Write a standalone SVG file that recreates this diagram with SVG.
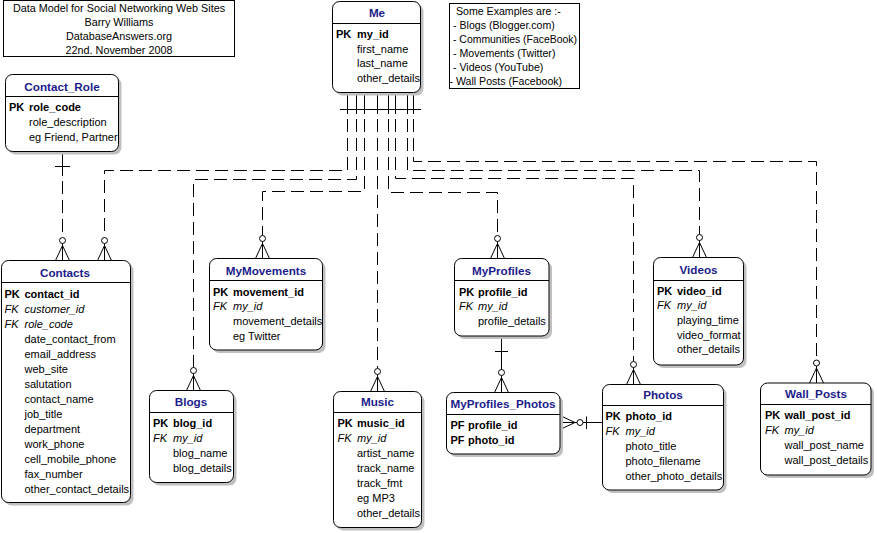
<svg xmlns="http://www.w3.org/2000/svg" width="877" height="533" viewBox="0 0 877 533">
<style>
text{font-family:"Liberation Sans",Arial,sans-serif;font-size:11px;fill:#000}
.hdr{font-size:11.7px;font-weight:bold;fill:#1c1c8c;text-anchor:middle}
.pk{font-weight:bold}
.fk{font-style:italic}
.mid{text-anchor:middle}
.ttl{font-size:10.8px}
.ex{font-size:10.6px}
.box{fill:#fff;stroke:#000;stroke-width:1}
.shd{fill:#c0c0c0}
.div{stroke:#000;stroke-width:1}
.sol{fill:none;stroke:#000;stroke-width:1}
.dash{fill:none;stroke:#000;stroke-width:1;stroke-dasharray:13 6}
.note{fill:#fff;stroke:#000;stroke-width:1}
</style>
<defs>
<g id="cf">
<circle cx="0" cy="-20" r="3" fill="#fff" stroke="#000" stroke-width="1"/>
<path d="M0,-17V0M0,-15L-7,0M0,-15L7,0" fill="none" stroke="#000" stroke-width="1"/>
</g>
</defs>
<rect width="877" height="533" fill="#fff"/>

<g id="title">
<rect class="note" x="3.5" y="0.5" width="231" height="56"/>
<text class="mid ttl" x="119" y="12">Data Model for Social Networking Web Sites</text>
<text class="mid ttl" x="119" y="26">Barry Williams</text>
<text class="mid ttl" x="119" y="40">DatabaseAnswers.org</text>
<text class="mid ttl" x="119" y="54">22nd. November 2008</text>
</g>

<g id="examples">
<rect class="note" x="449.5" y="3.5" width="130" height="85"/>
<text class="ex" x="456" y="15">Some Examples are :-</text>
<text class="ex" x="453" y="29">- Blogs (Blogger.com)</text>
<text class="ex" x="453" y="43" textLength="124" lengthAdjust="spacingAndGlyphs">- Communities (FaceBook)</text>
<text class="ex" x="453" y="57">- Movements (Twitter)</text>
<text class="ex" x="453" y="71">- Videos (YouTube)</text>
<text class="ex" x="449.5" y="85">- Wall Posts (Facebook)</text>
</g>

<g id="connectors">
<path class="sol" d="M347.5,93V114M356.5,93V114M364.5,93V114M377.5,93V114M388.5,93V114M395.5,93V114M407.5,93V114M413.5,93V114"/>
<path class="sol" d="M340,109.5H421"/>
<path class="dash" d="M347.5,119V170.5H104.5V237.5"/>
<path class="dash" d="M356.5,119V179.5H193.5V367.5"/>
<path class="dash" d="M364.5,119V191.5H262.5V235.5"/>
<path class="dash" d="M377.5,119V368.5"/>
<path class="dash" d="M388.5,119V192.5H497.5V235.5"/>
<path class="dash" d="M395.5,119V178.5H633.5V361.5"/>
<path class="dash" d="M407.5,119V170.5H699.5V234.5"/>
<path class="dash" d="M413.5,119V161.5H816.5V360"/>
<use href="#cf" x="104.5" y="260.5"/>
<use href="#cf" x="193.5" y="390.5"/>
<use href="#cf" x="262.5" y="258.5"/>
<use href="#cf" x="377.5" y="391.5"/>
<use href="#cf" x="497.5" y="258.5"/>
<use href="#cf" x="633.5" y="384.5"/>
<use href="#cf" x="699.5" y="257.5"/>
<use href="#cf" x="816.5" y="383"/>
<path class="sol" d="M62.5,152V176M55,166.5H70"/>
<path class="dash" d="M62.5,181V237.5"/>
<use href="#cf" x="62.5" y="260.5"/>
<path class="sol" d="M501.5,336V369.5M495,351.5H508"/>
<use href="#cf" x="501.5" y="392.5"/>
<path class="sol" d="M583,422.5H602.5M586.5,416.5V429"/>
<use href="#cf" transform="translate(560,422.5) rotate(90)"/>
</g>

<g id="me">
<rect class="shd" x="335.5" y="4.5" width="88" height="91" rx="7"/>
<rect class="box" x="332.5" y="1.5" width="88" height="91" rx="7"/>
<path class="div" d="M332.5,23.5H420.5"/>
<text class="hdr" x="377" y="17">Me</text>
<text class="pk" x="336" y="38">PK</text><text class="pk" x="357" y="38">my_id</text>
<text x="357" y="52.5">first_name</text>
<text x="357" y="67">last_name</text>
<text x="357" y="82">other_details</text>
</g>

<g id="contact_role">
<rect class="shd" x="8.5" y="77.5" width="113" height="77" rx="7"/>
<rect class="box" x="5.5" y="74.5" width="113" height="77" rx="7"/>
<path class="div" d="M5.5,96.5H118.5"/>
<text class="hdr" x="62" y="90.5">Contact_Role</text>
<text class="pk" x="9" y="111">PK</text><text class="pk" x="29" y="111">role_code</text>
<text x="29" y="126">role_description</text>
<text x="29" y="140.5">eg Friend, Partner</text>
</g>

<g id="contacts">
<rect class="shd" x="4.5" y="263.5" width="129" height="242" rx="7"/>
<rect class="box" x="1.5" y="260.5" width="129" height="242" rx="7"/>
<path class="div" d="M1.5,282.5H130.5"/>
<text class="hdr" x="65" y="277">Contacts</text>
<text class="pk" x="4.5" y="297.5">PK</text><text class="pk" x="24.5" y="297.5">contact_id</text>
<text class="fk" x="4.5" y="312.5">FK</text><text class="fk" x="24.5" y="312.5">customer_id</text>
<text class="fk" x="4.5" y="327.5">FK</text><text class="fk" x="24.5" y="327.5">role_code</text>
<text x="24.5" y="342.5">date_contact_from</text>
<text x="24.5" y="357.5">email_address</text>
<text x="24.5" y="372.5">web_site</text>
<text x="24.5" y="387.5">salutation</text>
<text x="24.5" y="402.5">contact_name</text>
<text x="24.5" y="417.5">job_title</text>
<text x="24.5" y="432.5">department</text>
<text x="24.5" y="447.5">work_phone</text>
<text x="24.5" y="462.5">cell_mobile_phone</text>
<text x="24.5" y="477.5">fax_number</text>
<text x="24.5" y="492.5">other_contact_details</text>
</g>

<g id="blogs">
<rect class="shd" x="152.5" y="393.5" width="84" height="92" rx="7"/>
<rect class="box" x="149.5" y="390.5" width="84" height="92" rx="7"/>
<path class="div" d="M149.5,412.5H233.5"/>
<text class="hdr" x="191" y="406">Blogs</text>
<text class="pk" x="153" y="427">PK</text><text class="pk" x="173" y="427">blog_id</text>
<text class="fk" x="153" y="442">FK</text><text class="fk" x="173" y="442">my_id</text>
<text x="173" y="457">blog_name</text>
<text x="173" y="472">blog_details</text>
</g>

<g id="mymovements">
<rect class="shd" x="212.5" y="261.5" width="113" height="91.5" rx="7"/>
<rect class="box" x="209.5" y="258.5" width="113" height="91.5" rx="7"/>
<path class="div" d="M209.5,280.5H322.5"/>
<text class="hdr" x="266" y="274.5">MyMovements</text>
<text class="pk" x="213" y="295.5">PK</text><text class="pk" x="233" y="295.5">movement_id</text>
<text class="fk" x="213" y="310">FK</text><text class="fk" x="233" y="310">my_id</text>
<text x="233" y="325">movement_details</text>
<text x="233" y="339.5">eg Twitter</text>
</g>

<g id="music">
<rect class="shd" x="336.5" y="394.5" width="88" height="136" rx="7"/>
<rect class="box" x="333.5" y="391.5" width="88" height="136" rx="7"/>
<path class="div" d="M333.5,412.5H421.5"/>
<text class="hdr" x="377.5" y="406">Music</text>
<text class="pk" x="337.5" y="427">PK</text><text class="pk" x="357" y="427">music_id</text>
<text class="fk" x="337.5" y="442">FK</text><text class="fk" x="357" y="442">my_id</text>
<text x="357" y="457">artist_name</text>
<text x="357" y="472">track_name</text>
<text x="357" y="487">track_fmt</text>
<text x="357" y="502">eg MP3</text>
<text x="357" y="517">other_details</text>
</g>

<g id="myprofiles">
<rect class="shd" x="457.5" y="261.5" width="94.5" height="77.5" rx="7"/>
<rect class="box" x="454.5" y="258.5" width="94.5" height="77.5" rx="7"/>
<path class="div" d="M454.5,280.5H549"/>
<text class="hdr" x="501.5" y="274.5">MyProfiles</text>
<text class="pk" x="459" y="295.5">PK</text><text class="pk" x="478" y="295.5">profile_id</text>
<text class="fk" x="459" y="310">FK</text><text class="fk" x="478" y="310">my_id</text>
<text x="478" y="325">profile_details</text>
</g>

<g id="myprofiles_photos">
<rect class="shd" x="449.5" y="395.5" width="113.5" height="61.5" rx="7"/>
<rect class="box" x="446.5" y="392.5" width="113.5" height="61.5" rx="7"/>
<path class="div" d="M446.5,414.5H560"/>
<text class="hdr" x="503" y="407.5">MyProfiles_Photos</text>
<text class="pk" x="450.5" y="428.5">PF</text><text class="pk" x="468" y="428.5">profile_id</text>
<text class="pk" x="450.5" y="443.5">PF</text><text class="pk" x="468" y="443.5">photo_id</text>
</g>

<g id="photos">
<rect class="shd" x="605.5" y="387.5" width="121" height="105.5" rx="7"/>
<rect class="box" x="602.5" y="384.5" width="121" height="105.5" rx="7"/>
<path class="div" d="M602.5,405.5H723.5"/>
<text class="hdr" x="663" y="398.5">Photos</text>
<text class="pk" x="605.5" y="419.5">PK</text><text class="pk" x="625.5" y="419.5">photo_id</text>
<text class="fk" x="605.5" y="434.5">FK</text><text class="fk" x="625.5" y="434.5">my_id</text>
<text x="625.5" y="449.5">photo_title</text>
<text x="625.5" y="464.5">photo_filename</text>
<text x="625.5" y="479.5">other_photo_details</text>
</g>

<g id="videos">
<rect class="shd" x="656.5" y="260.5" width="90" height="107.5" rx="7"/>
<rect class="box" x="653.5" y="257.5" width="90" height="107.5" rx="7"/>
<path class="div" d="M653.5,280.5H743.5"/>
<text class="hdr" x="698.5" y="273.5">Videos</text>
<text class="pk" x="657" y="294.5">PK</text><text class="pk" x="677" y="294.5">video_id</text>
<text class="fk" x="657" y="309">FK</text><text class="fk" x="677" y="309">my_id</text>
<text x="677" y="323.5">playing_time</text>
<text x="677" y="338.5">video_format</text>
<text x="677" y="353">other_details</text>
</g>

<g id="wall_posts">
<rect class="shd" x="763.5" y="386" width="110.5" height="92" rx="7"/>
<rect class="box" x="760.5" y="383" width="110.5" height="92" rx="7"/>
<path class="div" d="M760.5,404.5H871"/>
<text class="hdr" x="816" y="398">Wall_Posts</text>
<text class="pk" x="765" y="418.5">PK</text><text class="pk" x="784.5" y="418.5">wall_post_id</text>
<text class="fk" x="765" y="433.5">FK</text><text class="fk" x="784.5" y="433.5">my_id</text>
<text x="784.5" y="448.5">wall_post_name</text>
<text x="784.5" y="463.5">wall_post_details</text>
</g>
</svg>
